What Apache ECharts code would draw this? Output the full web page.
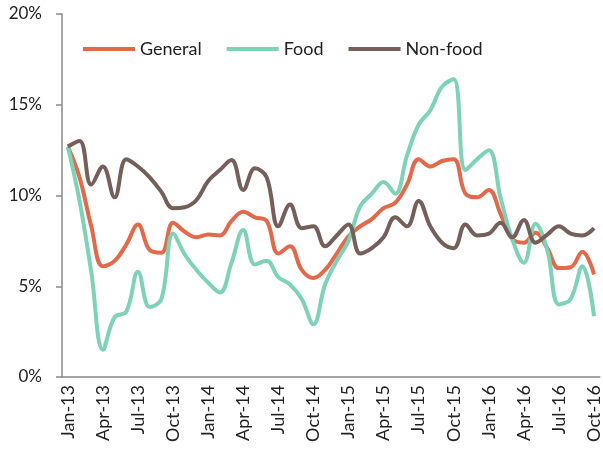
<!DOCTYPE html>
<html>
<head>
<meta charset="utf-8">
<script src="https://cdn.jsdelivr.net/npm/echarts@6/dist/echarts.min.js"></script>
<style>
  html, body { margin: 0; padding: 0; background: #fff; }
  #main { width: 603px; height: 453px; }
</style>
</head>
<body>
<div id="main"></div>
<script>
// months, Jan-13 .. Oct-16
var months = ['Jan-13', 'Feb-13', 'Mar-13', 'Apr-13', 'May-13', 'Jun-13', 'Jul-13', 'Aug-13', 'Sep-13', 'Oct-13', 'Nov-13', 'Dec-13',
  'Jan-14', 'Feb-14', 'Mar-14', 'Apr-14', 'May-14', 'Jun-14', 'Jul-14', 'Aug-14', 'Sep-14', 'Oct-14', 'Nov-14', 'Dec-14',
  'Jan-15', 'Feb-15', 'Mar-15', 'Apr-15', 'May-15', 'Jun-15', 'Jul-15', 'Aug-15', 'Sep-15', 'Oct-15', 'Nov-15', 'Dec-15',
  'Jan-16', 'Feb-16', 'Mar-16', 'Apr-16', 'May-16', 'Jun-16', 'Jul-16', 'Aug-16', 'Sep-16', 'Oct-16'];

// inflation, %
var general = [12.7, 11.0, 8.3, 6.1, 6.4, 7.3, 8.4, 7.0, 6.85, 8.5, 8.0, 7.7,
  7.85, 7.8, 8.6, 9.1, 8.8, 8.6, 6.8, 7.2, 5.9, 5.45, 5.9, 6.8,
  7.75, 8.3, 8.7, 9.3, 9.6, 10.6, 12.0, 11.6, 11.9, 12.0, 10.1, 9.9,
  10.3, 9.0, 7.6, 7.4, 7.95, 7.1, 6.0, 6.05, 6.9, 5.65];
var food = [12.7, 9.7, 5.8, 1.5, 3.3, 3.6, 5.8, 3.85, 4.3, 7.9, 6.75, 5.9,
  5.2, 4.65, 6.3, 8.1, 6.2, 6.4, 5.5, 5.1, 4.3, 2.9, 5.1, 6.4,
  7.5, 9.4, 10.1, 10.75, 10.1, 12.2, 13.9, 14.7, 16.0, 16.4, 11.4, 12.0,
  12.5, 9.9, 7.6, 6.3, 8.45, 7.0, 4.0, 4.3, 6.1, 3.35];
var nonFood = [12.7, 13.0, 10.6, 11.6, 9.9, 12.0, 11.6, 11.0, 10.2, 9.3, 9.35, 9.75,
  10.8, 11.4, 11.95, 10.3, 11.5, 11.0, 8.3, 9.5, 8.2, 8.3, 7.2, 7.8,
  8.4, 6.8, 7.1, 7.7, 8.8, 8.3, 9.7, 8.3, 7.4, 7.1, 8.4, 7.8,
  7.9, 8.5, 7.7, 8.65, 7.4, 7.85, 8.3, 7.9, 7.8, 8.2];

var yTicks = [0, 5, 10, 15, 20];

var myChart = echarts.init(document.getElementById('main'));
var axisColor = '#8a8a8a';
var font = 'Lato';

function line(name, data, color) {
  return {
    name: name,
    type: 'line',
    data: data,
    smooth: 0.4,
    symbol: 'none',
    lineStyle: { color: color, width: 4 },
    itemStyle: { color: color }
  };
}

var option = {
  animation: false,
  grid: { left: 62, right: 0, top: 14, bottom: 76 },
  legend: {
    left: 78,
    top: 35,
    icon: 'rect',
    itemWidth: 52,
    itemHeight: 4,
    itemGap: 25,
    textStyle: { fontFamily: font, fontSize: 18, color: '#222' },
    data: ['General', 'Food', 'Non-food']
  },
  xAxis: {
    type: 'category',
    data: months,
    boundaryGap: true,
    axisLine: { lineStyle: { color: axisColor, width: 1.5 } },
    axisTick: { interval: 2, length: 6, lineStyle: { color: axisColor, width: 1.5 } },
    axisLabel: {
      interval: 2,
      rotate: 90,
      margin: 8,
      fontFamily: font,
      fontSize: 18,
      color: '#222'
    },
    splitLine: { show: false }
  },
  yAxis: {
    type: 'value',
    min: yTicks[0],
    max: yTicks[yTicks.length - 1],
    interval: 5,
    axisLine: { show: true, lineStyle: { color: axisColor, width: 1.5 } },
    axisTick: { show: true, length: 6, lineStyle: { color: axisColor, width: 1.5 } },
    axisLabel: {
      formatter: '{value}%',
      margin: 20,
      fontFamily: font,
      fontSize: 17,
      color: '#222'
    },
    splitLine: { show: false }
  },
  series: [
    line('General', general, '#E2694A'),
    line('Food', food, '#7DD2B8'),
    line('Non-food', nonFood, '#765F5B')
  ]
};
option && myChart.setOption(option);
</script>
</body>
</html>
